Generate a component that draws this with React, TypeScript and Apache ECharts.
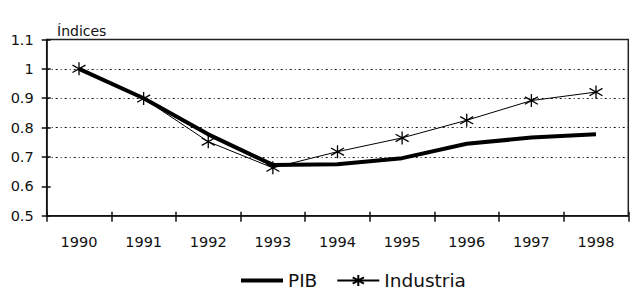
import React, { useEffect, useRef } from "react";
import * as echarts from "echarts";

const years = ["1990", "1991", "1992", "1993", "1994", "1995", "1996", "1997", "1998"];
const pib = [1.0, 0.9, 0.777, 0.673, 0.675, 0.696, 0.745, 0.766, 0.777];
const industria = [1.0, 0.899, 0.752, 0.663, 0.718, 0.765, 0.825, 0.892, 0.921];
const yMin = 0.5;
const yMax = 1.1;
const yStep = 0.1;
const yTitle = "Índices";
const seriesNames = ["PIB", "Industria"];

const FONT = "DejaVu Sans";
const asterisk = "path://M6,0L6,12M0.9,2.6L11.1,9.4M0.9,9.4L11.1,2.6";
const barIcon = "path://M0,0L42,0L42,4L0,4Z";

export default function App() {
  const ref = useRef<HTMLDivElement>(null);
  useEffect(() => {
    document.body.style.margin = "0";
    const chart = echarts.init(ref.current!, null, { renderer: "svg" });
    const gridColors = ["rgba(0,0,0,0)", "rgba(0,0,0,0)", "#111", "#111", "#111", "#111", "rgba(0,0,0,0)"];
    chart.setOption({
      animation: false,
      backgroundColor: "#fff",
      grid: {
        left: 46.7,
        right: 11.7,
        top: 39.5,
        bottom: 92.3,
        show: true,
        borderColor: "#222",
        borderWidth: 1.5,
        backgroundColor: "transparent",
      },
      graphic: [
        {
          type: "text",
          x: 57,
          y: 30.5,
          style: {
            text: yTitle,
            fontFamily: FONT,
            fontSize: 14,
            fill: "#111",
            align: "left",
            verticalAlign: "middle",
          },
        },
      ],
      legend: {
        left: 236,
        top: 266,
        itemWidth: 42,
        itemHeight: 14,
        itemGap: 19,
        textStyle: { fontFamily: FONT, fontSize: 18.5, color: "#111" },
        data: [
          { name: seriesNames[0], icon: barIcon, itemStyle: { color: "#000" } },
          { name: seriesNames[1] },
        ],
      },
      xAxis: [
        {
          type: "category",
          data: years,
          boundaryGap: true,
          axisLine: { show: true, lineStyle: { color: "#111", width: 1.5 } },
          axisTick: { show: true, inside: false, length: 6, lineStyle: { color: "#111", width: 1.5 } },
          axisLabel: { fontFamily: FONT, fontSize: 14.5, color: "#111", margin: 19 },
          splitLine: { show: false },
        },
        {
          type: "category",
          data: years,
          position: "bottom",
          boundaryGap: true,
          axisLine: { show: false },
          axisTick: { show: true, inside: true, length: 4, lineStyle: { color: "#111", width: 1.5 } },
          axisLabel: { show: false },
          splitLine: { show: false },
        },
      ],
      yAxis: [
        {
          type: "value",
          min: yMin,
          max: yMax,
          interval: yStep,
          axisLine: { show: true, lineStyle: { color: "#111", width: 1.5 } },
          axisTick: { show: true, inside: false, length: 5, lineStyle: { color: "#111", width: 1.5 } },
          axisLabel: { fontFamily: FONT, fontSize: 14.5, color: "#111", margin: 13 },
          splitLine: {
            show: true,
            showMinLine: true,
            showMaxLine: true,
            lineStyle: { color: gridColors, width: 1.2, type: [2, 3, 1, 3] },
          },
        },
        {
          type: "value",
          min: yMin,
          max: yMax,
          interval: yStep,
          position: "left",
          axisLine: { show: false },
          axisTick: { show: true, inside: true, length: 4, lineStyle: { color: "#111", width: 1.5 } },
          axisLabel: { show: false },
          splitLine: { show: false },
        },
      ],
      series: [
        {
          name: seriesNames[0],
          type: "line",
          data: pib,
          symbol: "none",
          showSymbol: false,
          lineStyle: { color: "#000", width: 4 },
          itemStyle: { color: "#000" },
          z: 3,
        },
        {
          name: seriesNames[1],
          type: "line",
          data: industria,
          symbol: asterisk,
          symbolSize: 13,
          showSymbol: true,
          lineStyle: { color: "#000", width: 1 },
          itemStyle: { color: "#000", borderColor: "#000", borderWidth: 1.3 },
          z: 4,
        },
      ],
    });
    return () => chart.dispose();
  }, []);
  return <div ref={ref} style={{ width: 640, height: 308 }} />;
}
